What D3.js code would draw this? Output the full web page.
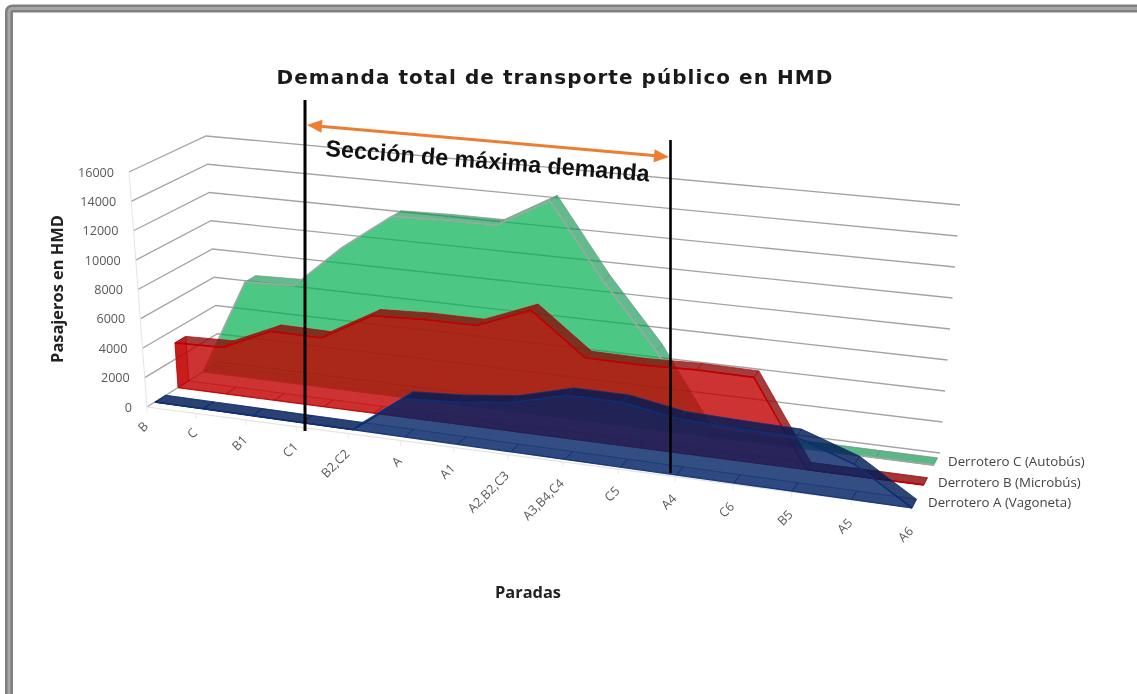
<!DOCTYPE html>
<html><head><meta charset="utf-8">
<script src="https://cdn.jsdelivr.net/npm/d3@7"></script>
<style>html,body{margin:0;padding:0;background:#fff}svg{display:block;filter:blur(.45px)}text{font-family:"Open Sans",sans-serif}</style>
</head><body><svg id="c" width="1137" height="694"></svg>
<script>
const categories = ["B","C","B1","C1","B2,C2","A","A1","A2,B2,C3","A3,B4,C4","C5","A4","C6","B5","A5","A6"];
const valuesC = [0,6700,6800,9800,12300,12400,12400,14400,9400,5200,0,0,0,0,0];
const valuesB = [3100,3200,4700,4650,6550,6700,6700,8100,5400,5350,5450,5400,0,0,0];
const valuesA = [0,0,0,0,0,2500,2730,3160,4100,4100,3500,3400,3340,2150,0];
const yTicks = [0,2000,4000,6000,8000,10000,12000,14000,16000];
const seriesNames = ["Derrotero C (Autobús)","Derrotero B (Microbús)","Derrotero A (Vagoneta)"];
const titleText = "Demanda total de transporte público en HMD";
const yTitle = "Pasajeros en HMD";
const xTitle = "Paradas";
const noteText = "Sección de máxima demanda";

const svg = d3.select("#c");
const W = 1137, H = 694;

// perspective frame of the 3D box
const FL=[147,407], FR=[912,508], BL=[219,362], BR=[940,453];
const FLt=[129,172], FRt=[937,244], BLt=[206,136], BRt=[960,205];
const lerp=(a,b,t)=>a+(b-a)*t;
const lp=(p,q,t)=>[lerp(p[0],q[0],t),lerp(p[1],q[1],t)];
const uScale=d3.scaleLinear().domain([0,categories.length-1]).range([0,1]);
const hScale=d3.scaleLinear().domain([0,16000]).range([0,1]);
const warpK=1.12;
const warp=t=>t/(t+warpK*(1-t));
function project(i,v,val){
  const u=warp(uScale(i)), h=hScale(val);
  const floor=lp(lp(FL,FR,u),lp(BL,BR,u),v);
  const top=lp(lp(FLt,FRt,u),lp(BLt,BRt,u),v);
  return lp(floor,top,h);
}
const poly=pts=>"M"+pts.map(p=>p[0].toFixed(1)+","+p[1].toFixed(1)).join("L")+"Z";
const lineOf=d3.line();

// window frame
const frame=svg.append("g");
frame.append("path").attr("d",`M9,${H}V12Q9,8.5 13,8.5H${W}`).attr("fill","none").attr("stroke","#7f7f7f").attr("stroke-width",8);
frame.append("path").attr("d",`M9,${H}V12Q9,8.5 13,8.5H${W}`).attr("fill","none").attr("stroke","#a6a6a6").attr("stroke-width",3);

// walls
const grid=svg.append("g").attr("fill","none");
yTicks.forEach(t=>{
  grid.append("path").attr("d",lineOf([project(0,0,t),project(0,1,t),project(14,1,t)]))
    .attr("stroke","#a3a3a3").attr("stroke-width",1.3);
});
grid.append("path").attr("d",lineOf([project(0,0,0),project(0,0,16000)])).attr("stroke","#e4e4e4").attr("stroke-width",1);
grid.append("path").attr("d",lineOf([project(0,0,0),project(14,0,0)])).attr("stroke","#e4e4e4").attr("stroke-width",1.2);
categories.forEach((c,i)=>{
  const p=project(i,0,0);
  grid.append("path").attr("d",lineOf([p,[p[0],p[1]+5]])).attr("stroke","#e8e8e8");
});

// series (back to front)
const seriesList=[
 {vals:valuesC,vL:[.78,.93],vR:[.78,.91],face:"rgba(0,176,80,.7)",strip:"rgba(0,145,70,.62)",line:"#a0a8a3",inner:"rgba(130,150,140,.9)",lw:1.6},
 {vals:valuesB,vL:[.43,.58],vR:[.42,.55],face:"rgba(192,0,0,.8)",strip:"rgba(140,5,5,.78)",line:"#c00000",inner:"#b01010",lw:1.6},
 {vals:valuesA,vL:[.11,.26],vR:[.0,.16],face:"rgba(0,34,100,.8)",strip:"rgba(0,28,85,.82)",line:"#0f2f75",inner:"#0f2f75",lw:1.6}
];
// twice the signed area: only strips that face the viewer are painted
const facing=(a,b,c)=>(b[0]-a[0])*(c[1]-a[1])-(b[1]-a[1])*(c[0]-a[0]);
seriesList.forEach(s=>{
  const g=svg.append("g");
  const vAt=(i,k)=>lerp(s.vL[k],s.vR[k],warp(uScale(i)));
  const front=i=>project(i,vAt(i,0),s.vals[i]);
  const back=i=>project(i,vAt(i,1),s.vals[i]);
  const ff=i=>project(i,vAt(i,0),0);
  const fb=i=>project(i,vAt(i,1),0);
  const idx=d3.range(categories.length);
  const segs=idx.slice(0,-1);
  // floor strip
  segs.forEach(i=>{
    g.append("path").attr("d",poly([ff(i),ff(i+1),fb(i+1),fb(i)]))
      .attr("fill",s.strip).attr("fill-opacity",.12)
      .attr("stroke",s.inner).attr("stroke-width",.8).attr("stroke-opacity",.55);
  });
  // top strips
  segs.forEach(i=>{
    if(facing(front(i),front(i+1),back(i))>=-1) return;
    g.append("path").attr("d",poly([front(i),front(i+1),back(i+1),back(i)]))
      .attr("fill",s.strip).attr("stroke",s.inner).attr("stroke-width",.8);
  });
  // end caps
  [0,categories.length-1].forEach(i=>{
    if(s.vals[i]>0) g.append("path").attr("d",poly([ff(i),front(i),back(i),fb(i)]))
      .attr("fill",s.face).attr("fill-opacity",.55).attr("stroke",s.inner).attr("stroke-width",.8);
  });
  // front face
  const facePts=idx.map(front).concat(idx.slice().reverse().map(ff));
  g.append("path").attr("d",poly(facePts)).attr("fill",s.face);
  g.append("path").attr("d",lineOf(idx.map(front))).attr("fill","none").attr("stroke",s.line).attr("stroke-width",s.lw);
  g.append("path").attr("d",lineOf([ff(0),ff(14)])).attr("fill","none").attr("stroke",s.line).attr("stroke-width",1.2).attr("stroke-opacity",.85);
});

// tick labels
const lab="#595959";
const txt=svg.append("g").attr("fill",lab).attr("font-size",12.6);
yTicks.forEach(t=>{
  const p=project(0,0,t);
  txt.append("text").attr("x",p[0]-15).attr("y",p[1]+4.5).attr("text-anchor","end").text(t);
});
categories.forEach((c,i)=>{
  const p=project(i,0,0);
  const u=warp(uScale(i));
  txt.append("text").attr("transform",`translate(${p[0]+2},${p[1]+20+4*u}) rotate(-45)`).attr("text-anchor","end").text(c);
});
const legendPos=[[948,466],[938,487],[928,507]];
seriesNames.forEach((n,i)=>{
  txt.append("text").attr("x",legendPos[i][0]).attr("y",legendPos[i][1]).attr("fill","#444").attr("font-size",13.3).text(n);
});

// titles
svg.append("text").attr("x",555).attr("y",84).attr("text-anchor","middle").style("font-family",'"DejaVu Sans",sans-serif').attr("font-size",20).attr("font-weight",700)
  .attr("letter-spacing",1.05).attr("fill","#1a1a1a").text(titleText);
svg.append("text").attr("transform","translate(63,289) rotate(-90)").attr("text-anchor","middle").attr("font-size",16.4).attr("font-weight",700)
  .attr("fill","#222").text(yTitle);
svg.append("text").attr("x",528).attr("y",598).attr("text-anchor","middle").attr("font-size",16.4).attr("font-weight",700)
  .attr("fill","#222").text(xTitle);

// annotation
const ann=svg.append("g");
ann.append("line").attr("x1",305).attr("x2",305).attr("y1",100).attr("y2",431).attr("stroke","#000").attr("stroke-width",3);
ann.append("line").attr("x1",670.5).attr("x2",670.5).attr("y1",140).attr("y2",473).attr("stroke","#000").attr("stroke-width",2.6);
const A=[307,125],B=[669,157];
const ang=Math.atan2(B[1]-A[1],B[0]-A[0]);
const head=(tip,dir)=>{
  const c=Math.cos(ang)*dir,s=Math.sin(ang)*dir,l=15,w=6.5;
  return poly([tip,[tip[0]-l*c+w*s,tip[1]-l*s-w*c],[tip[0]-l*c-w*s,tip[1]-l*s+w*c]]);
};
ann.append("line").attr("x1",A[0]+10).attr("y1",A[1]+1).attr("x2",B[0]-10).attr("y2",B[1]-1).attr("stroke","#ed7d31").attr("stroke-width",3);
ann.append("path").attr("d",head(A,-1)).attr("fill","#ed7d31");
ann.append("path").attr("d",head(B,1)).attr("fill","#ed7d31");
ann.append("text").attr("transform","translate(325,156) rotate(4.5)")
  .style("font-family",'"Liberation Sans",Arial,sans-serif').attr("font-size",23.3).attr("font-weight",700).attr("fill","#111").text(noteText);
</script></body></html>
